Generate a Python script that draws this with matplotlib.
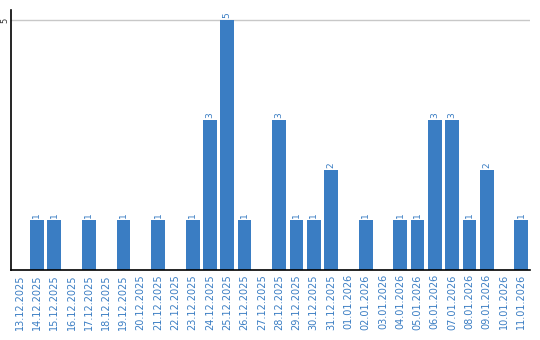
import matplotlib
matplotlib.use('Agg')
import matplotlib.pyplot as plt

# Daten
dates = ['13.12.2025', '14.12.2025', '15.12.2025', '16.12.2025', '17.12.2025',
         '18.12.2025', '19.12.2025', '20.12.2025', '21.12.2025', '22.12.2025',
         '23.12.2025', '24.12.2025', '25.12.2025', '26.12.2025', '27.12.2025',
         '28.12.2025', '29.12.2025', '30.12.2025', '31.12.2025', '01.01.2026',
         '02.01.2026', '03.01.2026', '04.01.2026', '05.01.2026', '06.01.2026',
         '07.01.2026', '08.01.2026', '09.01.2026', '10.01.2026', '11.01.2026']
counts = [0, 1, 1, 0, 1, 0, 1, 0, 1, 0, 1, 3, 5, 1, 0, 3, 1, 1, 2, 0,
          1, 0, 1, 1, 3, 3, 1, 2, 0, 1]

BLUE = '#3a7dc3'

fig = plt.figure(figsize=(5.4, 3.4), dpi=100)
ax = fig.add_axes([11 / 540, 70 / 340, 519 / 540, 260 / 340])

x = list(range(len(dates)))
ax.bar(x, counts, width=0.8, color=BLUE, zorder=2)

for xi, c in zip(x, counts):
    if c > 0:
        ax.text(xi, c + 0.04, str(c), rotation=90, ha='center', va='bottom',
                fontsize=6.5, color=BLUE)

ax.set_xlim(-0.5, len(dates) - 0.5)
ax.set_ylim(0, 5.2)
ax.set_yticks([5])
ax.set_yticklabels(['5'], rotation=90, va='center', fontsize=6, color='#333333')
ax.axhline(5, color='#c8c8c8', linewidth=1, zorder=1)

ax.set_xticks(x)
ax.set_xticklabels(dates, rotation=90, fontsize=7, color=BLUE)
ax.tick_params(axis='x', length=0, pad=3)
ax.tick_params(axis='y', length=0, pad=1)

for s in ['top', 'right']:
    ax.spines[s].set_visible(False)
ax.spines['left'].set_linewidth(1.2)
ax.spines['bottom'].set_linewidth(1.2)

fig.savefig('out.png', dpi=100)
